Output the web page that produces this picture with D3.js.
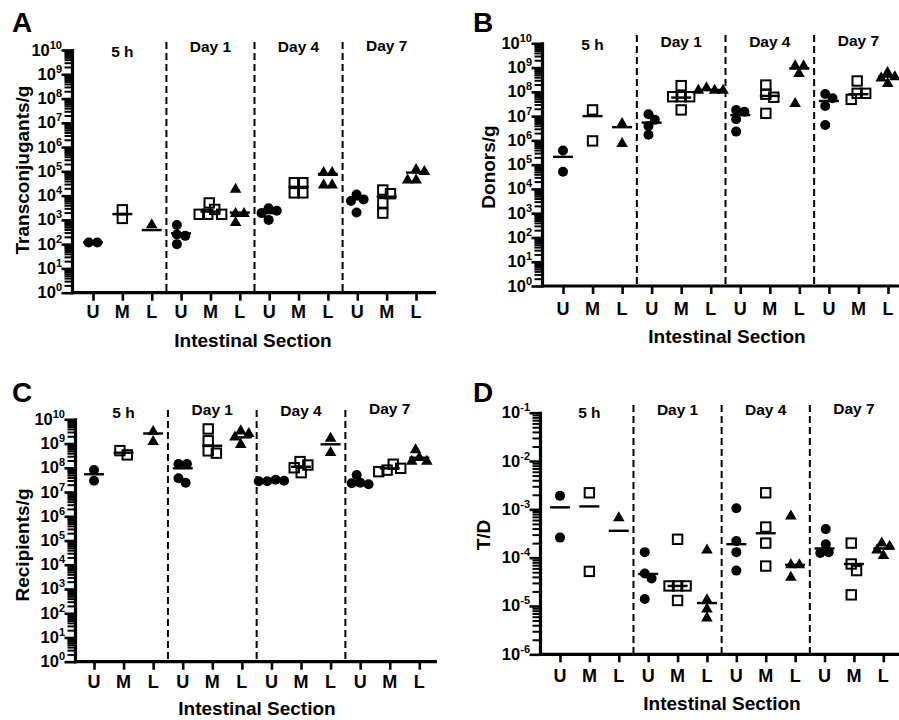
<!DOCTYPE html>
<html><head><meta charset="utf-8">
<script src="https://cdn.jsdelivr.net/npm/d3@7"></script>
<style>
body{margin:0;background:#fff}
svg{display:block}
text{font-family:"Liberation Sans",Arial,sans-serif;font-weight:bold;fill:#000}
</style>
</head><body>
<svg id="chart" width="899" height="720"></svg>
<script>
// ---------------- DATA ----------------
const groups = ["5 h", "Day 1", "Day 4", "Day 7"];
const sections = ["U", "M", "L"];

// Panel A: Transconjugants/g (order: 5h U,M,L, Day1 U,M,L, Day4 U,M,L, Day7 U,M,L)
const transconjugants = [
  [118, 118], [1150, 2600], [680],
  [620, 250, 220, 100], [2700, 1700, 1700, 1700, 5000], [20000, 2000, 2000, 850],
  [2400, 1000, 1900, 3000], [34000, 34000, 13000, 13000], [97000, 97000, 30000, 30000],
  [11000, 7000, 6000, 2000], [17000, 12000, 5000, 1900], [107000, 130000, 48000, 48000]
];
const transconjugantsMean = [118, 1730, 380, 280, 2200, 2000, 1900, 23000, 78000, 7000, 9000, 89000];

// Panel B: Donors/g
const donors = [
  [3.8e5, 5.1e4], [1.8e7, 9.5e5], [5.4e6, 8.1e5],
  [1.2e7, 7e6, 3.9e6, 1.7e6], [1.8e8, 6.3e7, 6.3e7, 6.3e7, 1.8e7], [1.26e8, 1.26e8, 1.26e8, 1.6e8],
  [1.8e7, 7.4e6, 1.5e7, 2.3e6], [1.9e8, 8e7, 6e7, 1.3e7], [1.27e9, 1.27e9, 6.2e8, 3.6e7],
  [8.1e7, 5.4e7, 2.6e7, 4.3e6], [2.8e8, 8.7e7, 8.7e7, 4.9e7], [4.5e8, 6.8e8, 2.4e8, 4e8]
];
const donorsMean = [2.1e5, 1e7, 3.5e6, 5.4e6, 5.8e7, 1.2e8, 1.1e7, 6.8e7, 9.3e8, 4.2e7, 8e7, 4.2e8];

// Panel C: Recipients/g
const recipients = [
  [2.9e7, 8.1e7], [3.4e8, 5.1e8], [1.3e9, 3.4e9],
  [1.44e8, 1.44e8, 2.4e7, 3.7e7], [4e9, 1.3e9, 5e8, 4e8], [2e9, 1e9, 2.8e9, 3.6e9],
  [2.8e7, 2.8e7, 2.9e7, 3.2e7], [1.3e8, 6.3e7, 1e8, 1.8e8], [1.8e9, 4.6e8],
  [2.4e7, 2.1e7, 2.3e7, 5e7], [9.5e7, 6.9e7, 8e7, 1.4e8], [2.9e8, 2e8, 2e8, 6e8]
];
const recipientsMean = [5.4e7, 4.2e8, 2.6e9, 9.5e7, 8.1e8, 1.8e9, 2.9e7, 1.1e8, 9.3e8, 2.4e7, 9.5e7, 2.6e8];

// Panel D: T/D ratio
const ratioTD = [
  [1.9e-3, 2.6e-4], [2.2e-3, 5.2e-5], [7e-4],
  [1.3e-4, 4.7e-5, 3.7e-5, 1.4e-5], [2.4e-4, 2.6e-5, 2.6e-5, 2.6e-5, 1.3e-5], [1.5e-4, 1.4e-5, 9e-6, 5.9e-6],
  [1.05e-3, 2.2e-4, 1.3e-4, 5.4e-5], [2.2e-3, 4.3e-4, 2e-4, 6.7e-5], [7.6e-4, 7.4e-5, 7.4e-5, 4.1e-5],
  [3.9e-4, 1.9e-4, 1.3e-4, 1.25e-4], [2e-4, 7.4e-5, 5.4e-5, 1.7e-5], [1.8e-4, 2.1e-4, 1.15e-4, 1.5e-4]
];
const ratioTDMean = [1.1e-3, 1.15e-3, 3.6e-4, 4.6e-5, 2.6e-5, 1.15e-5, 1.9e-4, 3.2e-4, 7.1e-5, 1.55e-4, 7.4e-5, 1.55e-4];

const yExponentsABC = [0, 10];
const yExponentsD = [-6, -1];
const xTitle = "Intestinal Section";

// ---------------- LAYOUT ----------------
const panels = [
  {letter:"A", lx:12, ly:32, values:transconjugants, means:transconjugantsMean, exps:yExponentsABC,
   title:"Transconjugants/g", tx:22, ty:170,
   axisX:72.5, yTop:50, yBot:292.7, xFirst:93, xLast:416, xRight:436, dashTop:42,
   glY:[57,52,52,51], xtX:253, xtY:347, catY:318},
  {letter:"B", lx:473, ly:32, values:donors, means:donorsMean, exps:yExponentsABC,
   title:"Donors/g", tx:488, ty:167,
   axisX:542.5, yTop:43.3, yBot:286, xFirst:563, xLast:888, xRight:899, dashTop:35,
   glY:[50,47,47,46], xtX:727, xtY:343, catY:315},
  {letter:"C", lx:12, ly:402, values:recipients, means:recipientsMean, exps:yExponentsABC,
   title:"Recipients/g", tx:22, ty:545,
   axisX:75.5, yTop:419.3, yBot:661.7, xFirst:94, xLast:419.3, xRight:437, dashTop:410,
   glY:[418,415,416,414], xtX:257, xtY:715, catY:688},
  {letter:"D", lx:473, ly:402, values:ratioTD, means:ratioTDMean, exps:yExponentsD,
   title:"T/D", tx:483, ty:535,
   axisX:540.5, yTop:412.7, yBot:654.3, xFirst:560, xLast:883.3, xRight:899, dashTop:405,
   glY:[418,415,415,414], xtX:722, xtY:710, catY:682}
];

const svg = d3.select("#chart");
const keys = groups.flatMap(g => sections.map(s => g + "|" + s));

function swarm(vals, y, d) {
  const pts = vals.map(v => ({v, py: y(v), dx: 0})).sort((a, b) => a.py - b.py);
  const placed = [];
  for (const p of pts) {
    const cands = [0];
    for (const q of placed) {
      const dy = p.py - q.py;
      if (Math.abs(dy) < d) {
        const w = Math.sqrt(d * d - dy * dy);
        cands.push(q.dx + w, q.dx - w);
      }
    }
    cands.sort((a, b) => Math.abs(a) - Math.abs(b) || b - a);
    for (const c of cands) {
      if (placed.every(q => Math.hypot(c - q.dx, p.py - q.py) >= d - 1e-6)) { p.dx = c; break; }
    }
    placed.push(p);
  }
  const c = (d3.min(placed, p => p.dx) + d3.max(placed, p => p.dx)) / 2;
  placed.forEach(p => p.dx -= c);
  return placed;
}

panels.forEach(P => {
  const g = svg.append("g");
  const y = d3.scaleLog().domain([10 ** P.exps[0], 10 ** P.exps[1]]).range([P.yBot, P.yTop]);
  const x = d3.scalePoint().domain(keys).range([P.xFirst, P.xLast]);

  // panel letter
  g.append("text").attr("x", P.lx).attr("y", P.ly).attr("font-size", 28).text(P.letter);

  // y axis ticks
  const majors = d3.range(P.exps[0], P.exps[1] + 1).map(e => 10 ** e);
  const minors = [];
  d3.range(P.exps[0], P.exps[1]).forEach(e => { for (let k = 2; k <= 9; k++) minors.push(k * 10 ** e); });

  const gMinor = g.append("g").attr("transform", `translate(${P.axisX},0)`)
    .call(d3.axisLeft(y).tickValues(minors).tickSize(8).tickSizeOuter(0).tickFormat(""));
  gMinor.select(".domain").remove();
  gMinor.selectAll("line").attr("stroke", "#000").attr("stroke-width", 2);

  const gMajor = g.append("g").attr("transform", `translate(${P.axisX},0)`)
    .call(d3.axisLeft(y).tickValues(majors).tickSize(11).tickSizeOuter(0).tickFormat(""));
  gMajor.select(".domain").remove();
  gMajor.selectAll("line").attr("stroke", "#000").attr("stroke-width", 2.6);

  // tick labels with superscripts
  majors.forEach((v, i) => {
    const e = P.exps[0] + i;
    const t = g.append("text").attr("x", P.axisX - 10.5).attr("y", y(v) + 5.5)
      .attr("text-anchor", "end").attr("font-size", 16.5);
    t.append("tspan").text("10");
    t.append("tspan").attr("dy", -7).attr("font-size", 11).text(String(e));
  });

  // axis lines
  g.append("line").attr("x1", P.axisX).attr("x2", P.axisX).attr("y1", P.yTop - 1).attr("y2", P.yBot + 1.5)
    .attr("stroke", "#000").attr("stroke-width", 3.2);

  const gx = g.append("g").attr("transform", `translate(0,${P.yBot})`)
    .call(d3.axisBottom(x).tickSize(8).tickSizeOuter(0).tickFormat(""));
  gx.select(".domain").remove();
  gx.selectAll("line").attr("stroke", "#000").attr("stroke-width", 2.6);
  g.append("line").attr("x1", P.axisX - 1.6).attr("x2", P.xRight).attr("y1", P.yBot).attr("y2", P.yBot)
    .attr("stroke", "#000").attr("stroke-width", 3.2);

  // category labels
  keys.forEach(k => {
    g.append("text").attr("x", x(k)).attr("y", P.catY).attr("text-anchor", "middle")
      .attr("font-size", 18).text(k.split("|")[1]);
  });

  // dashed separators
  for (let i = 1; i < groups.length; i++) {
    const xm = (x(keys[3 * i - 1]) + x(keys[3 * i])) / 2;
    g.append("line").attr("x1", xm).attr("x2", xm).attr("y1", P.dashTop).attr("y2", P.yBot)
      .attr("stroke", "#000").attr("stroke-width", 2).attr("stroke-dasharray", "7,4");
  }

  // group labels
  groups.forEach((gr, i) => {
    g.append("text").attr("x", x(gr + "|M")).attr("y", P.glY[i]).attr("text-anchor", "middle")
      .attr("font-size", 15.5).text(gr);
  });

  // axis titles
  g.append("text").attr("transform", `translate(${P.tx},${P.ty}) rotate(-90)`)
    .attr("text-anchor", "middle").attr("dominant-baseline", "central").attr("font-size", 19).text(P.title);
  g.append("text").attr("x", P.xtX).attr("y", P.xtY).attr("text-anchor", "middle")
    .attr("font-size", 19).text(xTitle);

  // points
  keys.forEach((k, i) => {
    const sec = k.split("|")[1];
    const pts = swarm(P.values[i], y, 8.5);
    const cx = x(k);
    pts.forEach(p => {
      const px = cx + p.dx, py = p.py;
      if (sec === "U") {
        g.append("circle").attr("cx", px).attr("cy", py).attr("r", 5).attr("fill", "#000");
      } else if (sec === "M") {
        g.append("rect").attr("x", px - 4.7).attr("y", py - 4.7).attr("width", 9.4).attr("height", 9.4)
          .attr("fill", "none").attr("stroke", "#000").attr("stroke-width", 2);
      } else {
        g.append("path").attr("transform", `translate(${px},${py + 1})`)
          .attr("d", d3.symbol(d3.symbolTriangle, 58)()).attr("fill", "#000");
      }
    });
    // mean line
    const m = P.means[i];
    g.append("line").attr("x1", cx - 10).attr("x2", cx + 10).attr("y1", y(m)).attr("y2", y(m))
      .attr("stroke", "#000").attr("stroke-width", 2.4);
  });
});
</script>
</body></html>
